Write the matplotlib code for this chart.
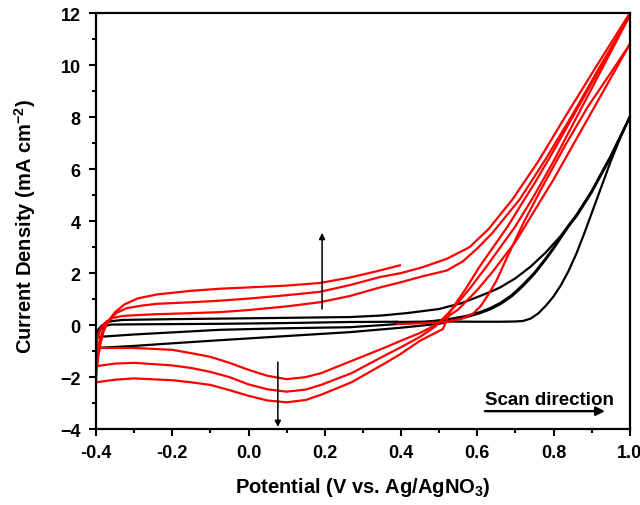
import numpy as np
import matplotlib.pyplot as plt
from matplotlib.ticker import MultipleLocator

plt.rcParams['font.family'] = ['Liberation Sans', 'DejaVu Sans']
plt.rcParams['font.weight'] = 'bold'
plt.rcParams['mathtext.fontset'] = 'custom'
plt.rcParams['mathtext.rm'] = 'Liberation Sans:bold'
plt.rcParams['mathtext.default'] = 'rm'

# ------------------------------------------------------------
# data (potential V, current mA cm^-2)
# ------------------------------------------------------------
# black: bare electrode, 3 sweeps
bk_f1_x = [0.39, 0.50, 0.60, 0.66, 0.70, 0.72, 0.74, 0.76, 0.78, 0.80, 0.82, 0.84, 0.86, 0.88, 0.90, 0.925, 0.95, 0.975, 1.0]
bk_f1_y = [0.12, 0.14, 0.13, 0.13, 0.14, 0.16, 0.25, 0.45, 0.75, 1.10, 1.55, 2.10, 2.75, 3.50, 4.30, 5.30, 6.30, 7.20, 8.0]

bk_r1_x = [1.0, 0.95, 0.90, 0.861, 0.84, 0.82, 0.80, 0.78, 0.75, 0.72, 0.69, 0.66, 0.633, 0.607, 0.57, 0.52, 0.45, 0.35, 0.266, 0.10, -0.075, -0.2, -0.3, -0.4]
bk_r1_y = [8.0, 6.5, 5.15, 4.25, 3.85, 3.42, 2.98, 2.58, 2.02, 1.56, 1.15, 0.85, 0.65, 0.50, 0.35, 0.22, 0.10, 0.0, -0.08, -0.12, -0.18, -0.28, -0.36, -0.46]

bk_f2_x = [-0.4, -0.398, -0.393, -0.385, -0.375, -0.36, -0.33, -0.2, -0.075, 0.10, 0.266, 0.35, 0.42, 0.50, 0.56, 0.607, 0.633, 0.66, 0.70, 0.74, 0.78, 0.82, 0.861, 0.90, 0.95, 1.0]
bk_f2_y = [-0.46, -0.30, -0.15, -0.02, 0.08, 0.15, 0.20, 0.23, 0.25, 0.28, 0.31, 0.37, 0.47, 0.62, 0.85, 1.12, 1.27, 1.45, 1.80, 2.25, 2.80, 3.45, 4.25, 5.15, 6.50, 8.0]

bk_r2_x = [1.0, 0.95, 0.90, 0.861, 0.84, 0.82, 0.80, 0.78, 0.75, 0.72, 0.69, 0.66, 0.633, 0.607, 0.57, 0.50, 0.40, 0.266, 0.10, -0.075, -0.2, -0.3, -0.4]
bk_r2_y = [8.0, 6.45, 5.1, 4.2, 3.8, 3.37, 2.93, 2.53, 1.97, 1.50, 1.10, 0.80, 0.60, 0.46, 0.30, 0.05, -0.10, -0.27, -0.42, -0.58, -0.70, -0.80, -0.88]

bk_f3_x = [-0.4, -0.398, -0.394, -0.387, -0.378, -0.36, -0.3, -0.075, 0.10, 0.266, 0.39]
bk_f3_y = [-0.88, -0.60, -0.35, -0.15, -0.03, 0.02, 0.03, 0.05, 0.08, 0.12, 0.13]

# red: modified electrode, 3 cycles starting at 0.39 V
rd_f1_x = [0.39, 0.45, 0.52, 0.56, 0.59, 0.61, 0.63, 0.65, 0.678, 0.72, 0.77, 0.83, 0.89, 0.95, 1.0]
rd_f1_y = [0.04, 0.07, 0.12, 0.25, 0.45, 0.75, 1.20, 1.70, 2.60, 3.90, 5.30, 6.90, 8.40, 9.70, 10.8]

rd_r1_x = [1.0, 0.95, 0.90, 0.85, 0.80, 0.75, 0.70, 0.64, 0.60, 0.55, 0.49, 0.45, 0.40, 0.36, 0.27, 0.19, 0.15, 0.10, 0.05, 0.0, -0.05, -0.1, -0.15, -0.2, -0.3, -0.4]
rd_r1_y = [10.8, 9.5, 8.2, 6.9, 5.6, 4.4, 3.2, 2.05, 1.35, 0.60, 0.0, -0.30, -0.60, -0.85, -1.38, -1.85, -2.0, -2.08, -1.95, -1.72, -1.45, -1.22, -1.08, -0.95, -0.88, -0.88]

rd_f2_x = [-0.4, -0.398, -0.393, -0.385, -0.372, -0.355, -0.33, -0.3, -0.24, -0.15, -0.075, 0.0, 0.10, 0.187, 0.266, 0.345, 0.40, 0.457, 0.52, 0.562, 0.60, 0.64, 0.712, 0.78, 0.85, 0.92, 1.0]
rd_f2_y = [-0.88, -0.60, -0.30, -0.05, 0.15, 0.28, 0.35, 0.38, 0.42, 0.46, 0.50, 0.58, 0.72, 0.88, 1.12, 1.45, 1.65, 1.88, 2.10, 2.45, 2.95, 3.55, 4.85, 6.40, 8.10, 9.90, 11.9]

rd_r2_x = [1.0, 0.95, 0.90, 0.85, 0.80, 0.75, 0.70, 0.625, 0.58, 0.54, 0.49, 0.45, 0.40, 0.36, 0.27, 0.19, 0.15, 0.10, 0.05, 0.0, -0.05, -0.1, -0.15, -0.2, -0.3, -0.35, -0.4]
rd_r2_y = [11.9, 10.5, 9.1, 7.7, 6.3, 5.0, 3.8, 2.27, 1.40, 0.70, -0.05, -0.45, -0.85, -1.15, -1.85, -2.30, -2.48, -2.56, -2.47, -2.28, -2.0, -1.8, -1.65, -1.55, -1.45, -1.48, -1.58]

rd_f3_x = [-0.4, -0.398, -0.394, -0.387, -0.377, -0.362, -0.345, -0.32, -0.28, -0.24, -0.15, -0.075, 0.0, 0.10, 0.187, 0.266, 0.345, 0.40, 0.457, 0.52, 0.58, 0.63, 0.693, 0.76, 0.83, 0.91, 1.0]
rd_f3_y = [-1.58, -1.20, -0.80, -0.40, -0.05, 0.25, 0.48, 0.65, 0.75, 0.82, 0.88, 0.94, 1.02, 1.15, 1.28, 1.54, 1.85, 2.0, 2.23, 2.55, 3.0, 3.7, 4.85, 6.3, 8.0, 9.9, 12.0]

rd_r3_x = [1.0, 0.95, 0.90, 0.85, 0.80, 0.75, 0.72, 0.68, 0.607, 0.57, 0.53, 0.51, 0.45, 0.40, 0.36, 0.27, 0.19, 0.15, 0.10, 0.05, 0.0, -0.05, -0.1, -0.15, -0.2, -0.3, -0.35, -0.4]
rd_r3_y = [11.95, 10.6, 9.3, 8.0, 6.7, 5.45, 4.75, 3.8, 2.27, 1.40, 0.55, -0.15, -0.60, -1.10, -1.45, -2.20, -2.68, -2.88, -2.97, -2.90, -2.72, -2.50, -2.30, -2.20, -2.12, -2.05, -2.10, -2.20]

rd_f4_x = [-0.4, -0.398, -0.394, -0.388, -0.38, -0.368, -0.35, -0.325, -0.29, -0.24, -0.15, -0.075, 0.0, 0.10, 0.187, 0.266, 0.33, 0.397]
rd_f4_y = [-2.20, -1.70, -1.20, -0.70, -0.25, 0.15, 0.50, 0.80, 1.03, 1.18, 1.32, 1.40, 1.45, 1.52, 1.62, 1.83, 2.05, 2.30]

black_sweeps = [(bk_f1_x, bk_f1_y), (bk_r1_x, bk_r1_y), (bk_f2_x, bk_f2_y),
                (bk_r2_x, bk_r2_y), (bk_f3_x, bk_f3_y)]
red_sweeps = [(rd_f1_x, rd_f1_y), (rd_r1_x, rd_r1_y), (rd_f2_x, rd_f2_y),
              (rd_r2_x, rd_r2_y), (rd_f3_x, rd_f3_y), (rd_r3_x, rd_r3_y),
              (rd_f4_x, rd_f4_y)]

# ------------------------------------------------------------
# figure
# ------------------------------------------------------------
fig = plt.figure(figsize=(6.4, 5.06), dpi=100)
ax = fig.add_axes([0.15, 0.15, 0.834, 0.822])

for xs, ys in black_sweeps:
    ax.plot(xs, ys, color='black', lw=1.6, solid_joinstyle='round')
for xs, ys in red_sweeps:
    ax.plot(xs, ys, color='#ff0000', lw=1.6, solid_joinstyle='round')

# growth arrows
ax.annotate('', xy=(0.193, 3.55), xytext=(0.193, 0.62),
            arrowprops=dict(arrowstyle='-|>', color='black', lw=1.1,
                            mutation_scale=9, shrinkA=0, shrinkB=0))
ax.annotate('', xy=(0.077, -3.92), xytext=(0.077, -1.42),
            arrowprops=dict(arrowstyle='-|>', color='black', lw=1.1,
                            mutation_scale=9, shrinkA=0, shrinkB=0))

# scan direction
ax.text(0.62, -3.02, 'Scan direction', fontsize=13.5, fontweight='bold')
ax.annotate('', xy=(0.935, -3.31), xytext=(0.62, -3.31),
            arrowprops=dict(arrowstyle='-|>', color='black', lw=1.7,
                            mutation_scale=13, shrinkA=0, shrinkB=0))

ax.set_xlim(-0.4, 1.0)
ax.set_ylim(-4, 12)
ax.xaxis.set_minor_locator(MultipleLocator(0.1))
ax.yaxis.set_major_locator(MultipleLocator(2))
ax.yaxis.set_minor_locator(MultipleLocator(1))
ax.set_xticks(np.arange(-0.4, 1.01, 0.2))
ax.set_xticklabels(['-0.4', '-0.2', '0.0', '0.2', '0.4', '0.6', '0.8', '1.0'])

for s in ax.spines.values():
    s.set_linewidth(1.6)
ax.tick_params(which='major', direction='out', length=5, width=1.5,
               labelsize=13, pad=6)
ax.tick_params(which='minor', direction='out', length=3, width=1.5)

ax.set_xlabel('Potential (V vs. Ag/AgNO$_3$)', fontsize=14.5, fontweight='bold', labelpad=10)
ax.set_ylabel('Current Density (mA cm$^{-2}$)', fontsize=14.5, fontweight='bold')
ax.yaxis.set_label_coords(-0.108, 0.49)

fig.savefig('out.png', dpi=100)
